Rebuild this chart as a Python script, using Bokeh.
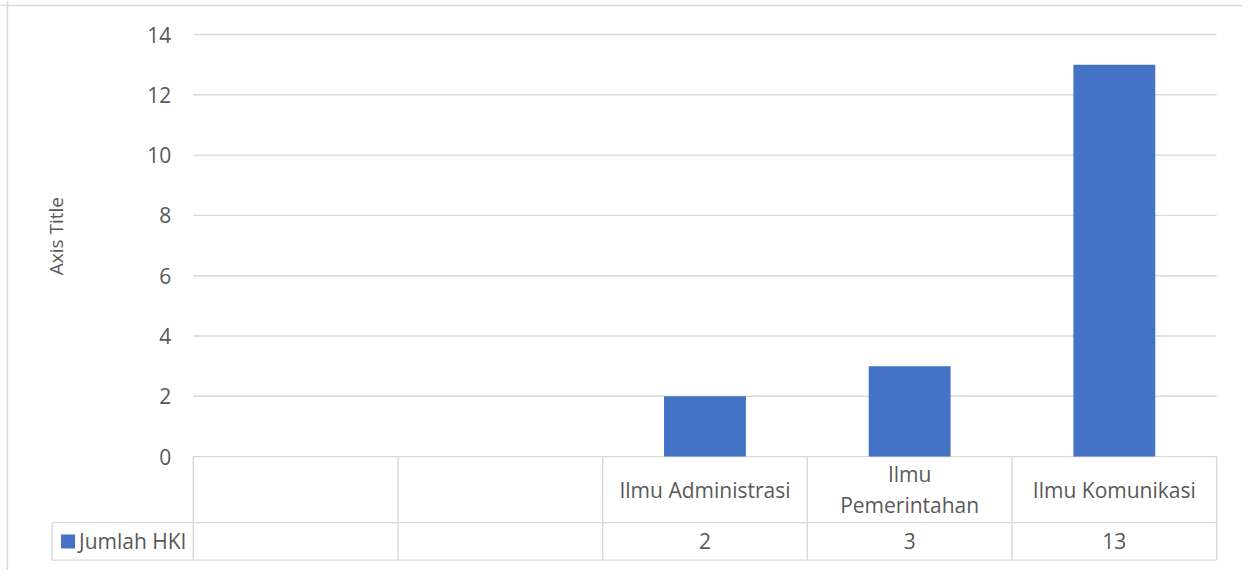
import math
from bokeh.plotting import figure
from bokeh.models import Range1d, LinearAxis, FixedTicker, Span
from bokeh.core.properties import value
from bokeh.embed import file_html
from bokeh.resources import INLINE

# ---------------- data ----------------
categories = ["", "", "Ilmu Administrasi", "Ilmu Pemerintahan", "Ilmu Komunikasi"]
jumlah_hki = [None, None, 2, 3, 13]
series_name = "Jumlah HKI"
y_ticks = [0, 2, 4, 6, 8, 10, 12, 14]
axis_title = "Axis Title"
wrapped = {"Ilmu Pemerintahan"}   # labels Excel wraps onto two lines

# ---------------- layout (reference-image pixels) ----------------
REF_W, REF_H = 1250, 578
W, H = 1242, 570
PLOT_L, PLOT_R = 194, 1224
PLOT_T, PLOT_B = 34.5, 462.5
ROW1_B, ROW2_B = 529.5, 567.5
LEG_L = 52
FONT = "Open Sans"
FS = "21px"
TXT = "#595959"
GRID = "#d9d9d9"
BAR = "#4472C4"

n = len(categories)
cat_w = (PLOT_R - PLOT_L) / n
unit_h = (PLOT_B - PLOT_T) / y_ticks[-1]


def xd(xp):
    return (xp - PLOT_L) / cat_w


def yd(yp):
    return (PLOT_B - yp) / unit_h


p = figure(width=W, height=H, output_backend="svg", toolbar_location=None,
           tools="", x_axis_type=None, y_axis_type=None, min_border=0,
           x_range=Range1d(xd(0), xd(REF_W)),
           y_range=Range1d(yd(REF_H), yd(0)))
p.outline_line_color = None
p.background_fill_color = "white"
p.border_fill_color = "white"

# chart border (left and top edges are visible in the reference)
p.add_layout(Span(location=xd(7), dimension="height", line_color=GRID, line_width=1.5))
p.add_layout(Span(location=yd(5), dimension="width", line_color=GRID, line_width=1.5))

# horizontal gridlines
p.segment(x0=[0] * len(y_ticks), x1=[n] * len(y_ticks), y0=y_ticks, y1=y_ticks,
          line_color=GRID, line_width=1.4)

# data table lines
r1, r2 = yd(ROW1_B), yd(ROW2_B)
xl = xd(LEG_L)
p.segment(x0=[xl, xl], x1=[n, n], y0=[r1, r2], y1=[r1, r2], line_color=GRID, line_width=1.4)
p.segment(x0=list(range(n + 1)), x1=list(range(n + 1)), y0=[0] * (n + 1), y1=[r2] * (n + 1),
          line_color=GRID, line_width=1.4)
p.segment(x0=[xl], x1=[xl], y0=[r1], y1=[r2], line_color=GRID, line_width=1.4)

# bars
bx = [i + 0.5 for i, v in enumerate(jumlah_hki) if v is not None]
bt = [v for v in jumlah_hki if v is not None]
p.vbar(x=bx, top=bt, bottom=0, width=0.4, fill_color=BAR, line_color=None)

# y axis (real axis, fixed at the left edge of the plot area)
yaxis = LinearAxis(fixed_location=0, ticker=FixedTicker(ticks=y_ticks),
                   axis_line_color=None, major_tick_line_color=None,
                   minor_tick_line_color=None, major_tick_out=0, major_tick_in=0,
                   major_label_standoff=22,
                   major_label_text_font=FONT, major_label_text_font_size=FS,
                   major_label_text_color=TXT)
p.add_layout(yaxis, "left")

# axis title
p.text(x=[xd(56)], y=[yd(239)], text=[axis_title], angle=math.pi / 2,
       text_align="center", text_baseline="middle", text_font=value(FONT),
       text_font_size="19px", text_color=TXT)

# category labels (table header row)
labels = [c.replace(" ", "\n", 1) if c in wrapped else c for c in categories]
p.text(x=[i + 0.5 for i in range(n)], y=[(0 + r1) / 2] * n, text=labels,
       text_align="center", text_baseline="middle", text_font=value(FONT),
       text_font_size=FS, text_color=TXT, text_line_height=1.1)

# values row
vals = ["" if v is None else str(v) for v in jumlah_hki]
p.text(x=[i + 0.5 for i in range(n)], y=[(r1 + r2) / 2] * n, text=vals,
       text_align="center", text_baseline="middle", text_font=value(FONT),
       text_font_size=FS, text_color=TXT)

# legend key inside the table
p.scatter(x=[xd(68)], y=[(r1 + r2) / 2], marker="square", size=14,
          fill_color=BAR, line_color=None)
p.text(x=[xd(79)], y=[(r1 + r2) / 2], text=[series_name], text_align="left",
       text_baseline="middle", text_font=value(FONT), text_font_size=FS,
       text_color=TXT)

open("out.html", "w").write(file_html(p, INLINE))
